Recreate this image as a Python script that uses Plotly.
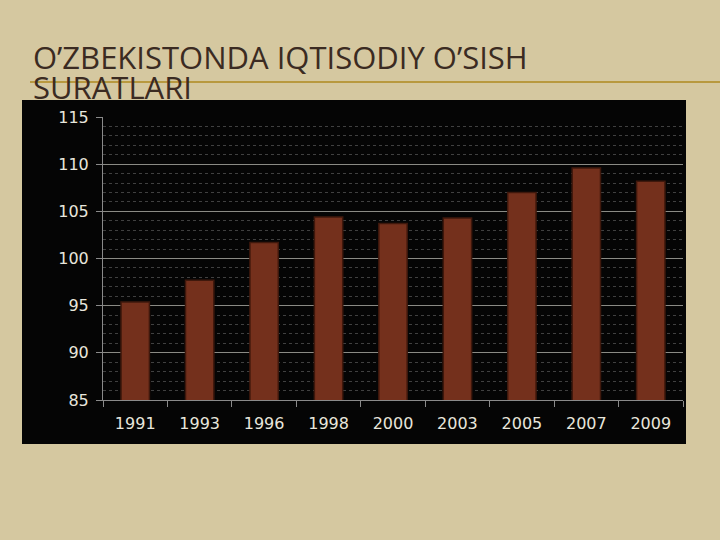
import plotly.graph_objects as go

years = ["1991", "1993", "1996", "1998", "2000", "2003", "2005", "2007", "2009"]
growth = [95.4, 97.7, 101.7, 104.4, 103.7, 104.3, 107.0, 109.6, 108.2]
y_ticks = [85, 90, 95, 100, 105, 110, 115]
title_lines = ["O’ZBEKISTONDA IQTISODIY O’SISH", "SURATLARI"]

W, H = 720, 540
def px(x):
    return x / W
def py(y):
    return 1 - y / H

fig = go.Figure()
fig.add_trace(go.Bar(
    x=years, y=growth,
    marker=dict(color="#74301c", line=dict(color="#3f180c", width=1.5)),
))

fig.update_layout(
    width=W, height=H, autosize=False,
    margin=dict(l=0, r=0, t=0, b=0, pad=0, autoexpand=False),
    paper_bgcolor="#d5c8a0",
    plot_bgcolor="#3a3a3a",
    showlegend=False,
    bargap=0.56,
    xaxis=dict(
        domain=[px(103), px(683)],
        type="category", automargin=False,
        showgrid=False,
        showline=True, linecolor="#8a8a8a", linewidth=1,
        ticks="outside", tickcolor="#8a8a8a", ticklen=6,
        tickson="boundaries",
        ticklabelstandoff=9,
        tickfont=dict(family="DejaVu Sans", size=16, color="#e8e6dc"),
    ),
    yaxis=dict(
        domain=[py(400), py(117)],
        range=[85, 115], automargin=False,
        tickvals=y_ticks,
        showgrid=True, gridcolor="#8a8a84", gridwidth=1,
        minor=dict(dtick=1, showgrid=True, gridcolor="#404040", griddash="dot"),
        showline=True, linecolor="#8a8a8a", linewidth=1,
        ticks="outside", tickcolor="#8a8a8a", ticklen=6,
        ticklabelstandoff=4,
        tickfont=dict(family="DejaVu Sans", size=16, color="#e8e6dc"),
        zeroline=False,
    ),
    font=dict(family="DejaVu Sans"),
)

# black chart frame
fig.add_shape(type="rect", xref="paper", yref="paper",
              x0=px(22), x1=px(686), y0=py(444), y1=py(100),
              fillcolor="#050505", line=dict(width=0), layer="below")
# gold rule line
fig.add_shape(type="line", xref="paper", yref="paper",
              x0=px(30), x1=1, y0=py(82), y1=py(82),
              line=dict(color="#b8993f", width=2), layer="below")

for i, line in enumerate(title_lines):
    fig.add_annotation(
        xref="paper", yref="paper", x=px(31), y=py(57 + 30 * i),
        xanchor="left", yanchor="middle", align="left", showarrow=False,
        text=line,
        font=dict(family="Open Sans", size=31, color="#3b2b22"),
    )

fig.write_html("out.html", config={"displayModeBar": False})
with open("out.html", encoding="utf-8") as f:
    html = f.read()
html = html.replace("<body>", '<body style="margin:0;padding:0;overflow:hidden;">', 1)
with open("out.html", "w", encoding="utf-8") as f:
    f.write(html)
